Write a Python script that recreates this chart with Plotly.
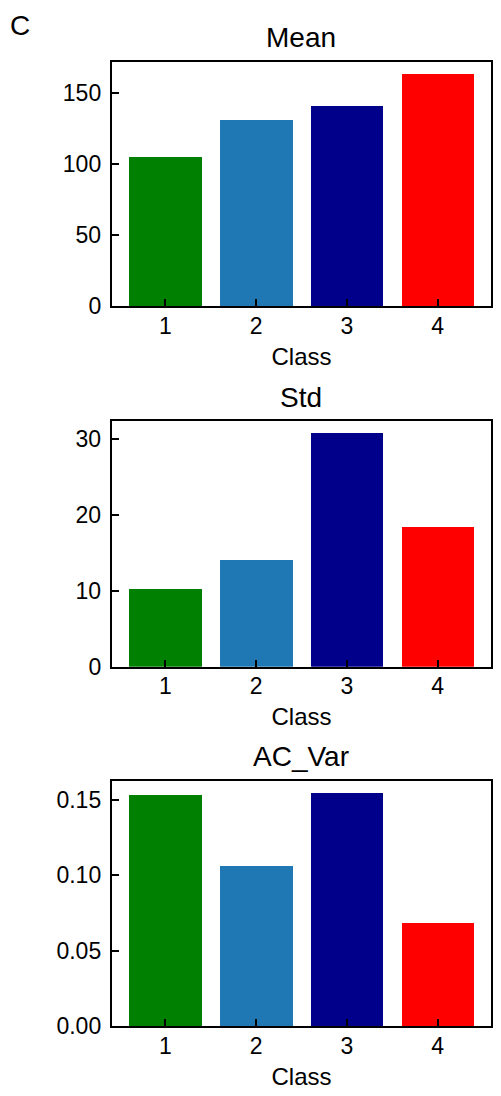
import plotly.graph_objects as go
from plotly.subplots import make_subplots

classes = [1, 2, 3, 4]
colors = ["#008000", "#1f77b4", "#00008B", "#FF0000"]

mean_vals = [105.2, 131.6, 141.4, 164.1]
std_vals = [10.26, 14.08, 30.84, 18.47]
acvar_vals = [0.1530, 0.1063, 0.1548, 0.0683]

titles = ["Mean", "Std", "AC_Var"]
series = [mean_vals, std_vals, acvar_vals]
yticks = [[0, 50, 100, 150], [0, 10, 20, 30], [0, 0.05, 0.10, 0.15]]
yticktext = [["0", "50", "100", "150"], ["0", "10", "20", "30"],
             ["0.00", "0.05", "0.10", "0.15"]]

FONT = "Liberation Sans, Arial, sans-serif"

fig = make_subplots(rows=3, cols=1)

W, H = 485, 1098
# panel placement in figure pixels (top, bottom)
rows_px = [(54.4, 302.0), (418.0, 666.6), (781.9, 1030.5)]
x0, x1 = 104 / W, 484.2 / W

for i, vals in enumerate(series):
    r = i + 1
    fig.add_trace(go.Bar(x=classes, y=vals, width=0.8,
                         marker=dict(color=colors, line=dict(width=0)),
                         showlegend=False), row=r, col=1)
    top, bot = rows_px[i]
    dom = [1 - bot / H, 1 - top / H]
    fig.update_yaxes(domain=dom, range=[0, max(vals) * 1.05],
                     tickvals=yticks[i], ticktext=yticktext[i],
                     row=r, col=1)
    fig.update_xaxes(domain=[x0, x1], range=[0.41, 4.59],
                     tickvals=classes, title_text="Class",
                     title_standoff=10, row=r, col=1)
    fig.add_annotation(text=titles[i], x=(x0 + x1) / 2, y=1 - (top - 6.5) / H,
                       xref="paper", yref="paper", xanchor="center",
                       yanchor="bottom", showarrow=False,
                       font=dict(size=28, color="black", family=FONT))

fig.update_xaxes(showline=True, linewidth=2, linecolor="black", mirror=True,
                 ticks="inside", ticklen=7, tickwidth=2, tickcolor="black",
                 showgrid=False, zeroline=False, ticklabelstandoff=-2,
                 tickfont=dict(size=23, color="black", family=FONT),
                 title_font=dict(size=24, color="black", family=FONT))
fig.update_yaxes(showline=True, linewidth=2, linecolor="black", mirror=True,
                 ticks="inside", ticklen=7, tickwidth=2, tickcolor="black",
                 showgrid=False, zeroline=False, ticklabelstandoff=4,
                 tickfont=dict(size=23, color="black", family=FONT))

fig.add_annotation(text="C", x=0, y=1 - 17.5 / H, xref="paper", yref="paper",
                   xanchor="left", yanchor="middle", showarrow=False,
                   font=dict(size=28, color="black", family=FONT))

fig.update_layout(width=W, height=H, margin=dict(l=0, r=0, t=0, b=0),
                  plot_bgcolor="white", paper_bgcolor="white",
                  bargap=0, font=dict(family=FONT, color="black"))

fig.write_html("out.html")
